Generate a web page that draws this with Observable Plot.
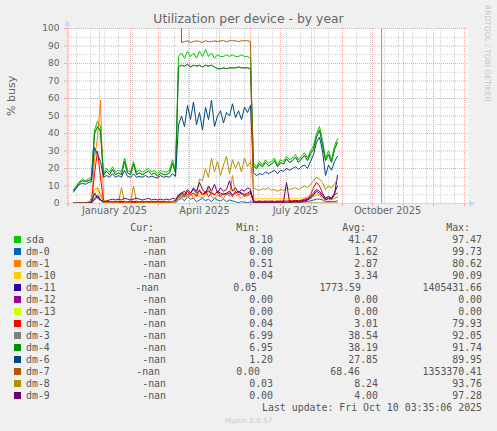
<!DOCTYPE html>
<html><head><meta charset="utf-8">
<script src="https://cdn.jsdelivr.net/npm/d3@7"></script>
<script src="https://cdn.jsdelivr.net/npm/@observablehq/plot@0.6"></script>
<style>
html,body{margin:0;padding:0;background:#f0f0f0;}
#wrap{position:relative;width:497px;height:431px;background:#f0f0f0;overflow:hidden;font-family:"DejaVu Sans",sans-serif;color:#666;}
#chart{position:absolute;left:0;top:0;}
.t{position:absolute;white-space:pre;}
.mono{font-family:"DejaVu Sans Mono",monospace;font-size:9.9px;line-height:12px;height:12px;color:#555;}
</style></head><body><div id="wrap"><div id="chart"></div></div>
<script>
// ---- data (daily samples every 3 days from 2024-12-06) ----
const sampleStart = "2024-12-06";
const sampleStepDays = 3;
const seriesNames = ["sda","dm-0","dm-1","dm-10","dm-11","dm-12","dm-13","dm-2","dm-3","dm-4","dm-6","dm-7","dm-8","dm-9"];
const seriesColors = ["#00CC00","#0066B3","#FF8000","#FFCC00","#330099","#990099","#CCFF00","#FF0000","#808080","#008F00","#00487D","#B35A00","#B38F00","#6B006B"];

const sda = [
 8, 10, 12.5, 14, 13, 14, 15,
 42, 47, 44,
 17, 20, 18, 21, 18, 19, 18, 26, 19, 18, 24, 18, 19, 18, 19, 20, 18, 19, 17, 19, 18, 18, 19, 25, 19,
 84, 86, 83, 87, 84, 86, 83, 87, 84, 88, 84, 86, 83, 85, 84, 84, 85, 84, 85, 84, 84, 85, 84, 84, 83,
 23, 21, 24, 22, 25, 23, 24, 26, 22, 25, 24, 27, 25, 26, 28, 25, 27, 29, 26, 30, 33, 40, 44, 36, 26, 30, 25, 33, 37
];
const dm0 = [
 0.2, 0.2, 0.2, 0.2, 0.2, 0.2, 0.3,
 3, 5, 2,
 0.3, 0.4, 0.3, 0.4, 0.3, 0.4, 0.3, 0.4, 0.3, 0.4, 0.3, 0.4, 0.3, 0.4, 0.3, 0.4, 0.3, 0.4, 0.3, 0.4, 0.3, 0.4, 0.3, 0.4, 0.5,
 2, 3, 1.5, 4, 2.5, 3, 1, 2, 3, 1.5, 2.5, 1, 3, 2, 1.5, 2.5, 1, 2, 1.5, 1, 0.5, 1, 0.8, 0.5, 1,
 0.5, 0.4, 0.5, 0.4, 0.5, 0.4, 0.5, 0.4, 0.5, 0.4, 0.5, 0.4, 0.5, 0.6, 0.7, 0.6, 0.8, 1, 1.2, 1.5, 2, 2.5, 2.5, 2, 1, 1.2, 1, 1.2, 1.5
];
const dm1 = [
 0.5, 0.5, 0.5, 0.5, 0.5, 0.6, 1,
 25, 38, 59,
 2, 1, 0.8, 1, 0.9, 1, 0.9, 1, 0.9, 1, 0.9, 1, 0.9, 1, 0.9, 1, 0.9, 1, 0.9, 1, 0.9, 1, 0.9, 1.2, 1.5,
 4, 3, 5, 4, 6, 3, 5, 4, 3, 5, 9, 4, 3, 5, 4, 3, 6, 4, 16, 5, 4, 3, 5, 4, 6,
 1.2, 1, 1.2, 1, 1.2, 1, 1.2, 1, 1.2, 1, 1.2, 1, 1.2, 1.3, 1.4, 1.3, 1.5, 1.8, 2, 3, 4, 5, 4.5, 3, 2, 2.5, 2, 3, 3.5
];
const dm10 = [
 0.3, 0.3, 0.3, 0.3, 0.3, 0.3, 0.5,
 5, 8, 4,
 0.5, 0.6, 0.5, 0.6, 0.5, 0.6, 0.5, 0.6, 0.5, 0.6, 0.5, 0.6, 0.5, 0.6, 0.5, 0.6, 0.5, 0.6, 0.5, 0.6, 0.5, 0.6, 0.5, 0.8, 1,
 4, 5, 6, 5, 6, 5, 7, 5, 6, 5, 6, 7, 5, 6, 5, 6, 5, 6, 5, 6, 7, 5, 6, 5, 6,
 3, 2.5, 3, 2.5, 3, 2.5, 3, 2.5, 3, 2.5, 3, 2.5, 3, 2.5, 3, 3, 3, 3.5, 3.5, 4, 5, 6, 5, 4, 3, 3.5, 3, 3.5, 4
];
const dm11 = [
 0.3, 0.3, 0.3, 0.3, 0.3, 0.3, 0.5,
 2, 4, 2,
 1, 1.2, 1, 1.2, 1, 1.2, 1, 1.2, 1, 1.2, 1, 1.2, 1, 1.2, 1, 1.2, 1, 1.2, 1, 1.2, 1, 1.2, 1, 1.2, 1.5,
 5, 6, 7, 5, 6, 8, 6, 7, 5, 6, 7, 6, 5, 7, 6, 5, 6, 7, 5, 6, 7, 6, 5, 6, 7,
 0.8, 0.7, 0.8, 0.7, 0.8, 0.7, 0.8, 0.7, 0.8, 0.7, 0.8, 0.7, 0.8, 0.9, 1, 1, 1.2, 1.5, 2, 3, 5, 7, 6, 4, 2, 3, 2.5, 5, 16
];
const dm12 = [
 0, 0, 0, 0, 0, 0, 0, 0, 0, 0,
 0, 0, 0, 0, 0, 0, 0, 0, 0, 0,
 0, 0, 0, 0, 0, 0, 0, 0, 0, 0,
 0, 0, 0, 0, 0, 0, 0, 0, 0, 0,
 0, 0, 0, 0, 0, 0, 0, 0, 0, 0,
 0, 0, 0, 0, 0, 0, 0, 0, 0, 0,
 0, 0, 0, 0, 0, 0, 0, 0, 0, 0,
 0, 0, 0, 0, 0, 0, 0, 0, 0, 0,
 0, 0, 0, 0, 0, 0, 0, 0, 0
];
const dm13 = [
 0, 0, 0, 0, 0, 0, 0, 0, 0, 0,
 0, 0, 0, 0, 0, 0, 0, 0, 0, 0,
 0, 0, 0, 0, 0, 0, 0, 0, 0, 0,
 0, 0, 0, 0, 0, 0, 0, 0, 0, 0,
 0, 0, 0, 0, 0, 0, 0, 0, 0, 0,
 0, 0, 0, 0, 0, 0, 0, 0, 0, 0,
 0, 0, 0, 0, 0, 0, 0, 0, 0, 0,
 0, 0, 0, 0, 0, 0, 0, 0, 0, 0,
 0, 0, 0, 0, 0, 0, 0, 0, 0
];
const dm2 = [
 0.3, 0.3, 0.3, 0.3, 0.3, 0.5, 1,
 17, 30, 15,
 1, 0.8, 0.6, 0.7, 0.6, 0.7, 0.6, 0.8, 0.7, 0.6, 0.7, 0.6, 0.7, 0.6, 0.7, 0.6, 0.7, 0.6, 0.7, 0.6, 0.7, 0.8, 0.7, 1, 1.5,
 3, 5, 4, 7, 5, 6, 4, 8, 5, 7, 4, 6, 5, 7, 4, 6, 5, 6, 4, 7, 5, 6, 4, 5, 6,
 1.5, 1.2, 1.5, 1.2, 1.5, 1.3, 1.5, 1.2, 1.5, 1.3, 1.5, 1.4, 1.6, 1.5, 1.8, 1.6, 2, 2.5, 3, 5, 9, 12, 10, 6, 3, 4, 3, 5, 6
];
const dm4 = [
 7.5, 9.5, 12, 13, 12.5, 13, 14,
 40, 44, 41,
 16, 18.5, 16.5, 19.5, 16.5, 17.5, 16.5, 24, 17.5, 16.5, 22.5, 16.5, 17.5, 16.5, 17.5, 18.5, 16.5, 17.5, 15.5, 17.5, 16.5, 16.5, 17.5, 23, 17.5,
 78, 79, 78.5, 79.5, 78, 79, 78.5, 79, 78, 79, 78.5, 79, 78, 77, 77, 77.5, 77, 77.5, 77.5, 77.5, 78, 77.5, 77.5, 77.5, 77,
 21.5, 20, 22.5, 21, 23.5, 21.5, 22.5, 24.5, 21, 23.5, 22.5, 25.5, 23.5, 24.5, 26.5, 23.5, 25.5, 27.5, 24.5, 28.5, 31, 38, 42, 34, 24.5, 28, 23.5, 31, 35
];
// dm-3 follows dm-4 almost exactly and is hidden beneath it in the picture
const dm3 = dm4;
const dm6 = [
 6.5, 9, 11, 11.5, 11, 12, 12.5,
 32, 28, 24,
 15, 16, 15, 17, 15, 16, 15, 19, 15.5, 15, 17, 15, 15.5, 15, 16, 15, 15.5, 15, 14.5, 16, 15, 15.5, 15, 17, 15.5,
 45, 50, 44, 56, 48, 58, 45, 52, 42, 55, 48, 59, 44, 50, 53, 46, 52, 50, 57, 49, 53, 48, 55, 52, 56,
 17.5, 16, 17, 16.5, 18, 17, 18, 19, 17, 19, 18.5, 20, 19, 20, 21, 19.5, 21, 22, 20, 24, 28, 35, 38, 30, 16, 22, 19, 24, 27
];
const dm7 = [
 null, null, null, null, null, null, null,
 null, null, null,
 null, null, null, null, null, null, null, null, null, null, null, null, null, null, null, null, null, null, null, null, null, null, null, null, null,
 500, 92, 92.5, 93, 92, 92.5, 93, 92.5, 92, 93, 92.5, 92.5, 93, 92.5, 93, 93, 92.5, 93, 93, 93, 92.5, 93, 93, 93, 92.5,
 0.5, 0.3, 0.2, 0.3, 0.2, 0.3, 0.2, 0.3, 0.2, 0.3, 0.2, 0.3, 0.2, 0.3, 0.2, 0.3, 0.2, 0.3, 0.2, 0.3, 0.2, 0.3, 0.2, 0.3, 0.2, 0.3, 0.2, 0.3, 0.2
];
const dm8 = [
 0.5, 0.5, 0.6, 0.5, 0.6, 0.8, 3,
 8, 9, 5,
 1, 0.8, 0.7, 0.8, 0.7, 0.8, 9, 1, 0.8, 0.7, 10, 0.8, 0.7, 0.8, 0.7, 0.8, 0.7, 0.8, 0.7, 0.8, 0.9, 0.8, 1, 1.2, 1,
 3, 4, 3.5, 5, 4, 6, 5, 14, 13, 20, 15, 26, 18, 24, 16, 22, 27, 17, 25, 20, 24, 18, 26, 21, 24,
 9, 8, 7.5, 8.5, 8, 9, 7.5, 8, 7, 8, 7.5, 9, 8, 8.5, 9, 8, 9, 10, 9, 11, 13, 15, 14, 12, 8, 10, 9, 11, 14
];
const dm9 = [
 0.2, 0.2, 0.3, 0.2, 0.3, 0.3, 0.5,
 6, 3, 2,
 1, 1.5, 2, 2.5, 2, 2.5, 2, 3, 2.5, 2, 2.5, 3, 2.5, 2, 2.5, 3, 2, 2.5, 2, 2.5, 2, 2.5, 2, 3, 2.5,
 4, 6, 5, 8, 6, 9, 7, 12, 8, 6, 10, 7, 11, 6, 9, 7, 8, 13, 7, 9, 6, 8, 7, 9, 8,
 1, 0.8, 0.7, 1, 0.8, 1, 0.7, 0.9, 1, 1.2, 1, 12, 1, 1.2, 1.5, 1.2, 1.5, 2, 2.5, 4, 6, 8, 7, 5, 3, 4, 3, 6, 10
];
const seriesValues = [sda, dm0, dm1, dm10, dm11, dm12, dm13, dm2, dm3, dm4, dm6, dm7, dm8, dm9];

const legendCur = ["-nan","-nan","-nan","-nan","-nan","-nan","-nan","-nan","-nan","-nan","-nan","-nan","-nan","-nan"];
const legendMin = ["8.10","0.00","0.51","0.04","0.05","0.00","0.00","0.04","6.99","6.95","1.20","0.00","0.03","0.00"];
const legendAvg = ["41.47","1.62","2.87","3.34","1773.59","0.00","0.00","3.01","38.54","38.19","27.85","68.46","8.24","4.00"];
const legendMax = ["97.47","99.73","80.62","90.09","1405431.66","0.00","0.00","79.93","92.05","91.74","89.95","1353370.41","93.76","97.28"];
const legendHeaders = ["Cur:","Min:","Avg:","Max:"];
const yTicks = [0,10,20,30,40,50,60,70,80,90,100];
const titleText = "Utilization per device - by year";
const yLabel = "% busy";
const lastUpdate = "Last update: Fri Oct 10 03:35:06 2025";
const nowTime = "2025-10-10T03:35:06Z";
const xDomain = ["2024-11-30", "2026-01-05"];

// ---- sanity ----
seriesValues.forEach((s, k) => { if (s.length !== sda.length) throw new Error(seriesNames[k] + " length " + s.length + " vs " + sda.length); });

// ---- build ----
const t0 = new Date(sampleStart + "T00:00:00Z");
const dates = sda.map((_, i) => d3.utcDay.offset(t0, sampleStepDays * i));
const x0 = new Date(xDomain[0] + "T00:00:00Z"), x1 = new Date(xDomain[1] + "T00:00:00Z");
const months = d3.utcMonth.range(d3.utcMonth.ceil(x0), x1);
const minorX = d3.range(0, 40).map(k => d3.utcDay.offset(new Date("2024-12-09T00:00:00Z"), 14 * k)).filter(d => d < x1);
const labelDates = d3.utcMonth.every(3).range(new Date("2025-01-01T00:00:00Z"), x1).map(d => d3.utcDay.offset(d, 15)).filter(d => d < x1);
const majorY = yTicks.filter(v => v > 0);
const minorY = yTicks.slice(0, -1).map(v => v + 5);

const lineMarks = seriesNames.map((name, k) =>
  Plot.line(dates.map((d, i) => ({date: d, value: seriesValues[k][i]})),
    {x: "date", y: "value", stroke: seriesColors[k], strokeWidth: 1, clip: true}));

const chart = Plot.plot({
  width: 497, height: 222,
  marginLeft: 67, marginRight: 29, marginTop: 28, marginBottom: 19,
  style: {background: "transparent", color: "#666", fontFamily: "DejaVu Sans, sans-serif", overflow: "visible"},
  x: {type: "utc", domain: [x0, x1], axis: null, label: null},
  y: {domain: [0, 100], axis: null, label: null},
  marks: [
    Plot.frame({fill: "white", stroke: "none"}),
    Plot.ruleY(minorY, {stroke: "#d2d2d2", strokeDasharray: "1,1"}),
    Plot.ruleX(minorX, {stroke: "#d2d2d2", strokeDasharray: "1,1"}),
    Plot.ruleY(majorY, {stroke: "#eeaaaa", strokeDasharray: "1,1"}),
    Plot.ruleX(months, {stroke: "#eeaaaa", strokeDasharray: "1,1"}),
    Plot.ruleX([new Date(nowTime)], {stroke: "#999999", strokeWidth: 1}),
    ...lineMarks,
    Plot.axisY({ticks: yTicks, tickSize: 0, tickPadding: 8, fontSize: 9, fill: "#666", label: null}),
    Plot.axisY({ticks: yTicks, tickSize: 3, text: null, stroke: "#eeaaaa", label: null}),
    Plot.axisX({ticks: labelDates, tickFormat: d3.utcFormat("%B %Y"), tickSize: 0, tickPadding: 4, fontSize: 9.8, fill: "#666", label: null}),
    Plot.axisX({ticks: months, tickSize: 3, text: null, stroke: "#eeaaaa", label: null}),
    Plot.text([yLabel], {frameAnchor: "left", dx: -56, rotate: -90, fontSize: 11, fill: "#666"})
  ]
});
document.getElementById("chart").appendChild(chart);

// axis lines + arrows
const xr = chart.scale("x").range, yr = chart.scale("y").range;
const L = xr[0], R = xr[1], B = yr[0], T = yr[1];
const svg = d3.select(chart);
const g = svg.append("g").attr("fill", "#CFD6F8").attr("stroke", "#CFD6F8");
g.append("line").attr("x1", L - 3).attr("x2", R + 2).attr("y1", B + 0.5).attr("y2", B + 0.5);
g.append("line").attr("x1", L + 0.5).attr("x2", L + 0.5).attr("y1", B + 3).attr("y2", T - 3);
g.append("path").attr("stroke", "none").attr("d", `M${R+1},${B-3}L${R+7},${B+0.5}L${R+1},${B+4}Z`);
g.append("path").attr("stroke", "none").attr("d", `M${L-3},${T-2}L${L+0.5},${T-8}L${L+4},${T-2}Z`);

// ---- title, legend, footer ----
const wrap = document.getElementById("wrap");
function addText(txt, css, cls) {
  const d = document.createElement("div");
  d.className = "t" + (cls ? " " + cls : "");
  d.textContent = txt;
  Object.assign(d.style, css);
  wrap.appendChild(d);
  return d;
}
addText(titleText, {left: "0px", width: "497px", textAlign: "center", top: "11px", fontSize: "12.4px", lineHeight: "16px", color: "#666"});
addText("RRDTOOL / TOBI OETIKER", {left: "483px", top: "5px", fontSize: "7.5px", color: "#c8c8c8", writingMode: "vertical-rl"});

const colRight = [166, 273, 378, 482];
const colRightOverride = {"dm-11": [159, 257, 361, 482], "dm-7": [160, 260, 360, 482]};
const headerRight = [154, 260, 366, 470];
legendHeaders.forEach((h, j) => addText(h, {right: (497 - headerRight[j]) + "px", top: (227.5 - 6) + "px"}, "mono"));
seriesNames.forEach((name, i) => {
  const cy = 239.5 + 12 * i;
  const sw = document.createElement("div");
  Object.assign(sw.style, {position: "absolute", left: "14px", top: (cy - 3.5) + "px", width: "7px", height: "7px", background: seriesColors[i]});
  wrap.appendChild(sw);
  addText(name, {left: "26px", top: (cy - 6) + "px"}, "mono");
  const edges = colRightOverride[name] || colRight;
  [legendCur[i], legendMin[i], legendAvg[i], legendMax[i]].forEach((v, j) =>
    addText(v, {right: (497 - edges[j]) + "px", top: (cy - 6) + "px"}, "mono"));
});
addText(lastUpdate, {right: (497 - 482) + "px", top: (239.5 + 12 * 14 - 6) + "px"}, "mono");
addText("Munin 2.0.57", {left: "0px", width: "497px", textAlign: "center", top: "416px", fontSize: "7.3px", color: "#c8c8c8"});
</script></body></html>
